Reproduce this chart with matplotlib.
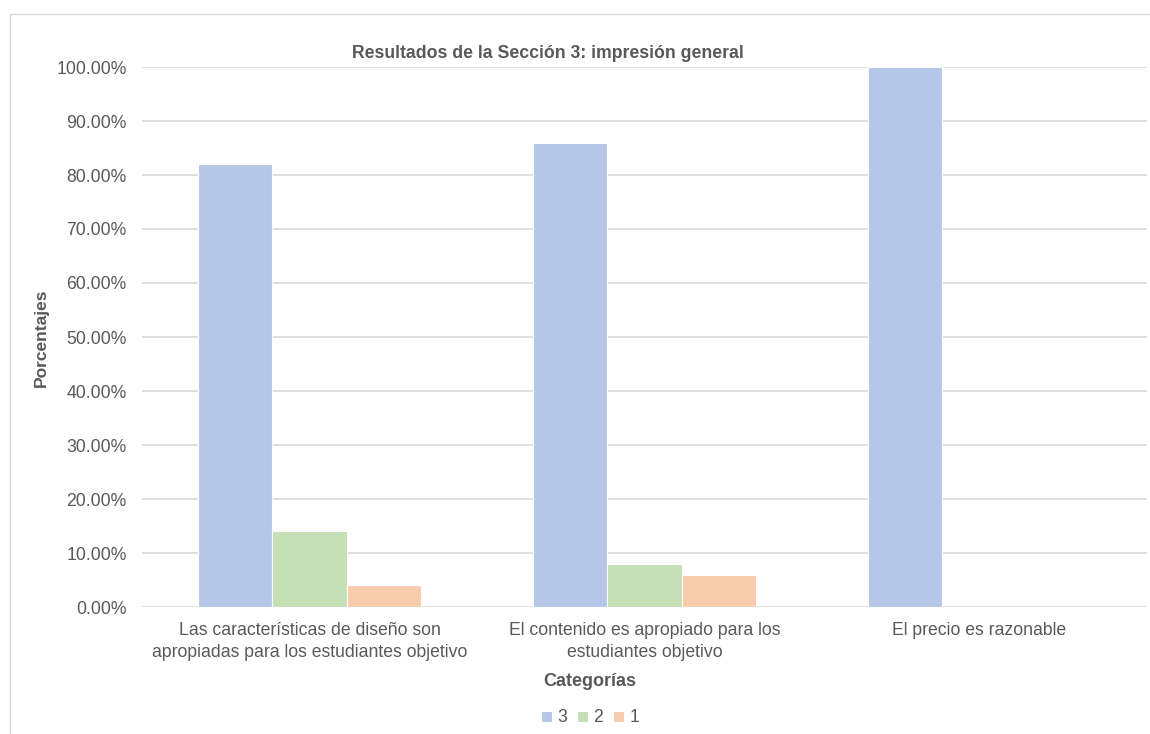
import numpy as np
import matplotlib.pyplot as plt
from matplotlib.patches import Rectangle
from matplotlib.ticker import FuncFormatter

plt.rcParams['font.family'] = ['Liberation Sans', 'DejaVu Sans']

# Data
categories = ['Las características de diseño son\napropiadas para los estudiantes objetivo',
              'El contenido es apropiado para los\nestudiantes objetivo',
              'El precio es razonable']
series_names = ['3', '2', '1']
vals_3 = [0.82, 0.86, 1.00]
vals_2 = [0.14, 0.08, 0.0]
vals_1 = [0.04, 0.06, 0.0]
colors = ['#b4c7e7', '#c5e0b4', '#f8cbad']

text_col = '#595959'
W, H = 1150, 734

fig = plt.figure(figsize=(W / 100, H / 100), dpi=100)
fig.patch.set_facecolor('white')

# chart area border
fig.patches.append(Rectangle((10 / W, -0.1), 1.2, (H - 14) / H + 0.1, transform=fig.transFigure,
                             fill=False, edgecolor='#d9d9d9', linewidth=1))

ax = fig.add_axes([142 / W, (H - 607) / H, 1005 / W, 540 / H])

x = np.arange(len(categories))
bw = 0.221
for i, (vals, name) in enumerate(zip([vals_3, vals_2, vals_1], series_names)):
    ax.bar(x + (i - 1) * bw, vals, width=bw, color=colors[i], edgecolor='white',
           linewidth=0.8, label=name, zorder=3)

ax.set_xlim(-0.5, len(categories) - 0.5)
ax.set_ylim(0, 1.0)
ax.set_yticks(np.arange(0, 1.01, 0.1))
ax.yaxis.set_major_formatter(FuncFormatter(lambda v, p: '%.2f%%' % (v * 100)))
ax.set_xticks(x)
ax.set_xticklabels(categories, linespacing=1.4)
ax.tick_params(axis='both', length=0, labelsize=12.7, labelcolor=text_col)
ax.tick_params(axis='y', pad=11)
ax.tick_params(axis='x', pad=11)
ax.grid(axis='y', color='#d9d9d9', linewidth=1.2, zorder=0)
for s in ax.spines.values():
    s.set_visible(False)

fig.text(548 / W, 1 - 54 / H, 'Resultados de la Sección 3: impresión general', ha='center',
         va='center', fontsize=12.7, fontweight='bold', color=text_col)
fig.text(41 / W, 1 - 338 / H, 'Porcentajes', rotation=90, ha='center', va='center',
         fontsize=12.5, fontweight='bold', color=text_col)
fig.text(590 / W, 1 - 682 / H, 'Categorías', ha='center', va='center',
         fontsize=13, fontweight='bold', color=text_col)

handles, labels = ax.get_legend_handles_labels()
leg = fig.legend(handles, labels, loc='center', bbox_to_anchor=(590 / W, 1 - 718 / H), ncol=3,
                 frameon=False, fontsize=12.7, handlelength=0.6, handleheight=0.6,
                 handletextpad=0.3, columnspacing=0.6, labelcolor=text_col)

fig.savefig('out.png', dpi=100)
